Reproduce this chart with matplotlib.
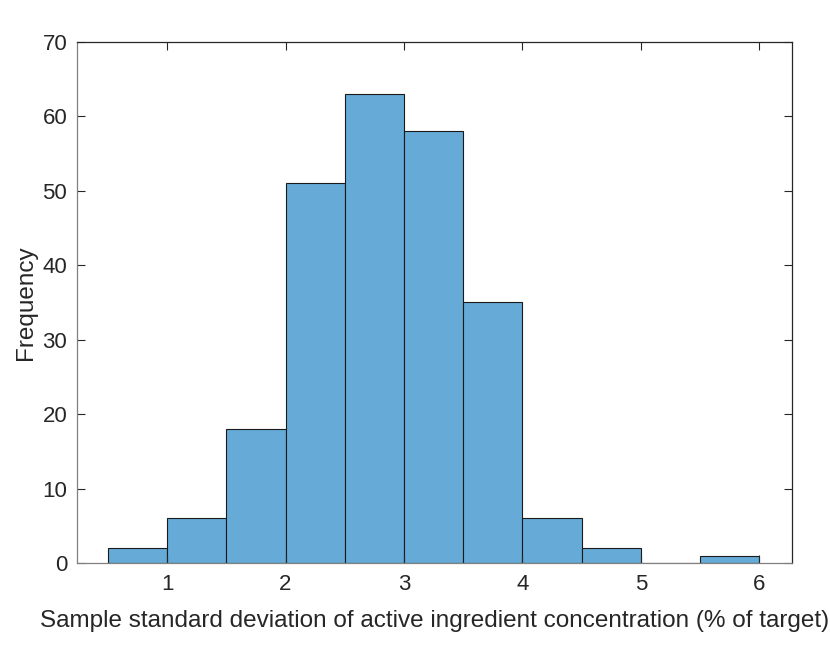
import numpy as np
import matplotlib
matplotlib.use("Agg")
import matplotlib.pyplot as plt

# bin edges and counts
bin_edges = [0.5, 1.0, 1.5, 2.0, 2.5, 3.0, 3.5, 4.0, 4.5, 5.0, 5.5, 6.0]
counts = [2, 6, 18, 51, 63, 58, 35, 6, 2, 0, 1]
x_ticks = [1, 2, 3, 4, 5, 6]
y_ticks = [0, 10, 20, 30, 40, 50, 60, 70]

plt.rcParams["font.family"] = ["Liberation Sans", "DejaVu Sans"]

fig = plt.figure(figsize=(8.3, 6.64), dpi=100)
ax = fig.add_axes([0.0928, 0.152, 0.8614, 0.785])

edges = np.array(bin_edges)
ax.bar(edges[:-1], counts, width=np.diff(edges), align="edge",
       color="#66AAD7", edgecolor="#1a1a1a", linewidth=0.8)

ax.set_xlim(0.24, 6.275)
ax.set_ylim(0, 70)
ax.set_xticks(x_ticks)
ax.set_yticks(y_ticks)

ax.tick_params(direction="in", length=6, width=0.8, colors="#262626",
               labelsize=16, top=True, right=True)
ax.tick_params(axis="x", pad=8)
ax.tick_params(axis="y", pad=7)
ax.spines["left"].set_color("#808080")
ax.spines["bottom"].set_color("#808080")
ax.spines["top"].set_color("#262626")
ax.spines["right"].set_color("#262626")
for s in ax.spines.values():
    s.set_linewidth(0.9)

ax.set_xlabel("Sample standard deviation of active ingredient concentration (% of target)",
              fontsize=17.5, color="#262626", labelpad=11)
ax.set_ylabel("Frequency", fontsize=17.5, color="#262626", labelpad=4)

fig.savefig("out.png", dpi=100)
